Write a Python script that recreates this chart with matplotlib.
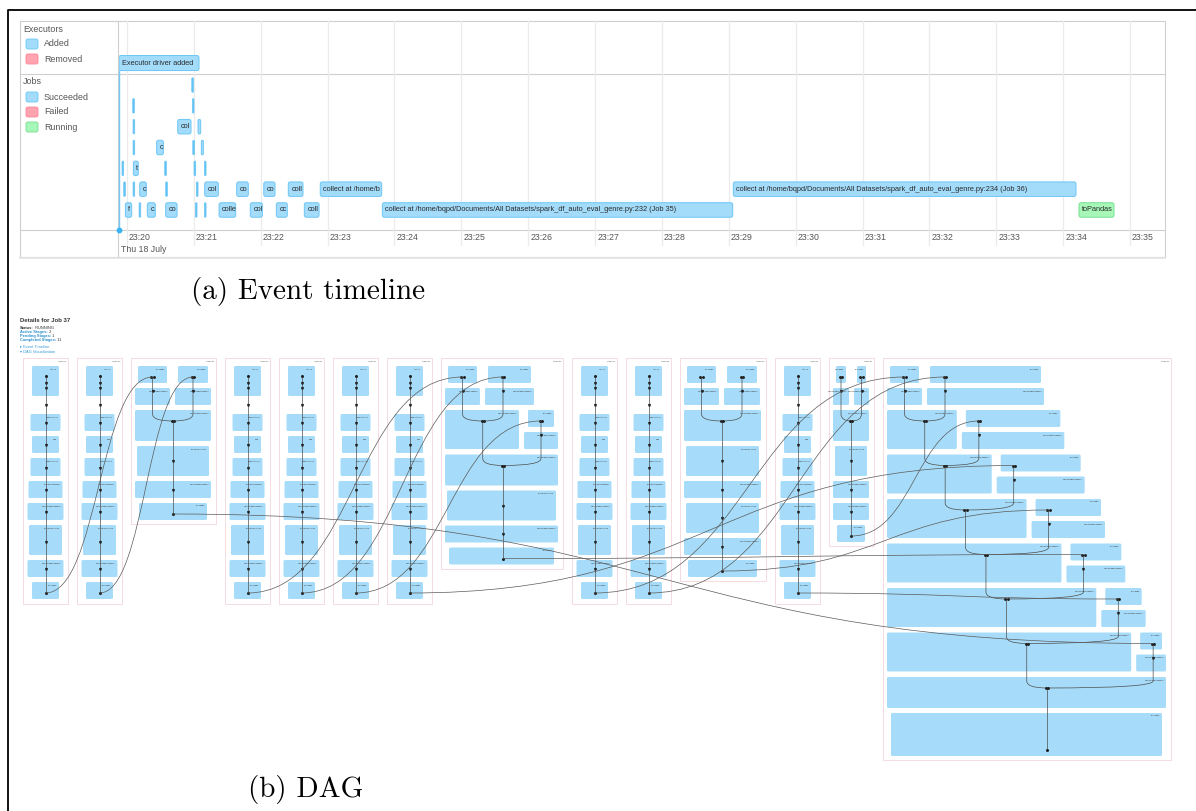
import matplotlib
matplotlib.use("Agg")
import matplotlib.pyplot as plt
import matplotlib.transforms as mtransforms
from matplotlib.patches import FancyBboxPatch, Rectangle, PathPatch
from matplotlib.path import Path

plt.rcParams['font.family'] = ['Liberation Sans', 'DejaVu Sans']

# ---------------- (a) event timeline ----------------
# times are seconds after 23:20:00
tick_labels = ['23:20', '23:21', '23:22', '23:23', '23:24', '23:25', '23:26', '23:27',
               '23:28', '23:29', '23:30', '23:31', '23:32', '23:33', '23:34', '23:35']
timeline_date = 'Thu 18 July'
executor_time = -7.2
executor_label = 'Executor driver added'

long35 = 'collect at /home/bqpd/Documents/All Datasets/spark_df_auto_eval_genre.py:232 (Job 35)'
long36 = 'collect at /home/bqpd/Documents/All Datasets/spark_df_auto_eval_genre.py:234 (Job 36)'

job_lane = [0,
            1, 1,
            2, 2, 2,
            3, 3, 3, 3,
            4, 4, 4, 4, 4,
            5, 5, 5, 5, 5, 5, 5, 5, 5, 5, 5,
            6, 6, 6, 6, 6, 6, 6, 6, 6, 6, 6, 6]
job_start = [58.1,
             5.1, 58.6,
             5.4, 45.5, 63.7,
             5.4, 26.6, 59.0, 66.7,
             -4.5, 5.7, 33.8, 60.1, 69.4,
             -3.0, 5.4, 11.4, 34.7, 62.2, 69.7, 98.4, 122.7, 144.7, 173.4, 544.0,
             -1.5, 10.8, 18.2, 34.7, 61.3, 69.4, 82.6, 110.6, 134.0, 159.1, 229.1, 854.2]
job_end = [58.1,
           5.1, 58.6,
           5.4, 57.4, 66.1,
           5.4, 32.6, 59.0, 68.5,
           -4.5, 10.1, 33.8, 60.1, 69.4,
           -3.0, 5.4, 17.3, 34.7, 62.2, 81.9, 108.8, 132.8, 157.9, 228.5, 851.5,
           4.2, 10.8, 25.4, 44.9, 61.3, 69.4, 97.5, 121.4, 143.8, 172.3, 543.5, 885.6]
job_label = ['',
             '', '',
             '', 'col', '',
             '', 'c', '', '',
             '', 't', '', '', '',
             '', '', 'c', '', '', 'col', 'co', 'co', 'coll', 'collect at /home/b', long36,
             'f', '', 'c', 'co', '', '', 'colle', 'col', 'cc', 'coll', long35, 'toPandas']
job_state = ['succeeded'] * 37 + ['running']

legend_executors = ['Added', 'Removed']
legend_jobs = ['Succeeded', 'Failed', 'Running']

fills = {'succeeded': '#A3DCFB', 'added': '#A3DCFB', 'failed': '#FFA3B0',
         'removed': '#FFA3B0', 'running': '#A6F7B8'}
edges = {'succeeded': '#6CC6F4', 'added': '#6CC6F4', 'failed': '#FF8497',
         'removed': '#FF8497', 'running': '#77DF92'}

# ---------------- (b) DAG ----------------
dag_title = 'Details for Job 37'
dag_summary_keys = ['Status:', 'Active Stages:', 'Pending Stages:', 'Completed Stages:']
dag_summary_vals = ['RUNNING', '2', '1', '11']
dag_links = ['\u25b8 Event Timeline', '\u25be DAG Visualization']

dag_stage_ids = [79, 80, 81, 82, 83, 84, 85, 86, 87, 88, 89, 90, 91, 92]
dag_stage_kind = ['chain', 'chain', 'join', 'chain', 'chain', 'chain', 'chain',
                  'join', 'chain', 'chain', 'join', 'chain', 'join', 'join']
dag_stage_width = [45, 45, 85, 45, 45, 45, 45, 122, 45, 45, 86, 45, 45, 288]
dag_side_inputs = [0, 0, 0, 0, 0, 0, 0, 1, 0, 0, 0, 0, 0, 6]
dag_col_a = [0, 0, 35, 0, 0, 0, 0, 35, 0, 0, 35, 0, 16, 35]
dag_col_b = [0, 0, 36, 0, 0, 0, 0, 49, 0, 0, 36, 0, 15, 117]
tail_short = [('BatchEvalPython', 30), ('WholeStageCodegen', 17), ('Exchange', 17)]
tail_long = [('BatchEvalPython', 30), ('WholeStageCodegen', 17),
             ('BatchEvalPython', 30), ('WholeStageCodegen', 17), ('Exchange', 17)]
tail_mid = [('BatchEvalPython', 30), ('WholeStageCodegen', 17),
            ('WholeStageCodegen', 17), ('Exchange', 17)]
tail_final = [('Exchange', 43)]
dag_tails = [None, None, tail_short, None, None, None, None, tail_short,
             None, None, tail_long, None, tail_mid, tail_final]
chain_nodes = ['textFile', 'mapPartitions', 'map', 'mapPartitions', 'ScanExistingRDD',
               'WholeStageCodegen', 'BatchEvalPython', 'WholeStageCodegen', 'Exchange']
chain_node_w = [27, 30, 27, 30, 34, 36, 33, 36, 27]
chain_node_h = [30, 17, 17, 18, 17, 17, 30, 17, 17]
# shuffle edges between stages: source stage -> (target stage, input slot)
dag_edge_src = [0, 1, 3, 4, 5, 2, 6, 7, 8, 9, 10, 11, 12]
dag_edge_dst = [2, 2, 7, 7, 7, 13, 13, 13, 13, 13, 13, 13, 13]
dag_edge_slot = [0, 1, 0, 1, 2, 7, 3, 5, 0, 1, 4, 6, 2]

W, H = 1196, 811
fig = plt.figure(figsize=(W / 100, H / 100), dpi=100)
bg = fig.add_axes([0, 0, 1, 1])
bg.set_xlim(0, W)
bg.set_ylim(H, 0)
bg.axis('off')


def fig_box(x0, y0, x1, y1):
    return [x0 / W, 1 - y1 / H, (x1 - x0) / W, (y1 - y0) / H]


# outer frame
bg.plot([8, 8, W], [H, 10, 10], color='black', lw=1.3, solid_capstyle='butt')

# timeline panel frame
LINE = '#cfcfcf'
bg.add_patch(Rectangle((20, 21), 1145, 236, fill=False, ec=LINE, lw=0.8))
bg.plot([20, 1165], [74, 74], color=LINE, lw=0.8)
bg.plot([20, 1165], [230, 230], color=LINE, lw=0.8)
bg.plot([118, 118], [21, 257], color=LINE, lw=0.8)
bg.plot([20, 1165], [258, 258], color='#e4e4e4', lw=1.2)

# legend column
TXT = '#555555'
for title, items, y in [('Executors', legend_executors, 29), ('Jobs', legend_jobs, 82)]:
    bg.text(23, y, title, fontsize=6.4, color=TXT, va='center')
    for i, it in enumerate(items):
        yy = y + 15 * (i + 1)
        key = it.lower()
        bg.add_patch(FancyBboxPatch((26, yy - 5), 12, 10, boxstyle='round,pad=0,rounding_size=2',
                                    fc=fills[key], ec=edges[key], lw=0.6))
        bg.text(44, yy, it, fontsize=6.4, color=TXT, va='center')

bg.text(121, 249, timeline_date, fontsize=6.3, color=TXT, va='center')

# timeline axes
ax = fig.add_axes(fig_box(119, 21, 1165, 230))
ax.patch.set_alpha(0)
ax.axis('off')
lane_px = 20.8
ax.set_xlim(executor_time, executor_time + 1046 * 0.8973)
ax.set_ylim(6 + 20 / lane_px, -64 / lane_px)
sec_per_px = (ax.get_xlim()[1] - ax.get_xlim()[0]) / 1046
lane_per_px = 1 / lane_px
aspect = lane_per_px / sec_per_px

tick_times = [60 * i for i in range(len(tick_labels))]
lab_trans = mtransforms.offset_copy(
    mtransforms.blended_transform_factory(ax.transData, ax.transAxes), fig=fig, x=2, y=0, units='dots')
for t, lab in zip(tick_times, tick_labels):
    ax.axvline(t, ymin=-15 / 209, ymax=1, color='#ebebeb', lw=0.9, clip_on=False, zorder=0)
    ax.text(t, -7 / 209, lab, transform=lab_trans, fontsize=6.3, color=TXT, va='center', ha='left')

bar_h = 14.5 * lane_per_px


def draw_bar(start, end, lane, label, state, h):
    thin = (end - start) < 2 * sec_per_px
    w = max(end - start, 1.7 * sec_per_px)
    r = min(2 * sec_per_px, w / 2)
    fc = '#5FC4F6' if thin else fills[state]
    p = FancyBboxPatch((start, lane - h / 2), w, h, boxstyle='round,pad=0,rounding_size=%f' % r,
                       mutation_aspect=aspect, fc=fc, ec=edges[state], lw=0.5 if thin else 0.7, zorder=3)
    ax.add_patch(p)
    if label:
        t = ax.annotate(label, (start, lane), xytext=(3, 0), textcoords='offset pixels',
                        fontsize=5.3, color='#2b2b2b', va='center', ha='left', zorder=4)
        t.set_clip_path(p)


exec_lane = -22 * lane_per_px
ax.plot([executor_time, executor_time], [exec_lane + 7.5 * lane_per_px, ax.get_ylim()[0]],
        color='#74C9F5', lw=1.0, zorder=2, clip_on=False)
ax.plot([executor_time], [ax.get_ylim()[0]], 'o', ms=3.2, color='#3DB4F2', clip_on=False, zorder=5)
draw_bar(executor_time, executor_time + 80 * sec_per_px, exec_lane, executor_label, 'added',
         15 * lane_per_px)

for ln, s, e, lab, st in zip(job_lane, job_start, job_end, job_label, job_state):
    draw_bar(s, e, ln, lab, st, bar_h)

# captions
bg.text(308, 292, '(a) Event timeline', fontsize=21, family='cmr10', ha='center', va='center')
bg.text(306, 790, '(b) DAG', fontsize=21, family='cmr10', ha='center', va='center')

# ---------------- DAG drawing ----------------
NODE = '#A6DCF9'
EDGE = '#4d4d4d'
CLUSTER = '#F4D6DB'
STAGE_TOP = 358
NODE_TOP = 366
STAGE_GAP = 9
LEVEL_STEP = 44.5


def rnode(x0, y0, x1, y1, name):
    bg.add_patch(FancyBboxPatch((x0, y0), x1 - x0, y1 - y0, boxstyle='round,pad=0,rounding_size=1.5',
                                fc=NODE, ec='none', zorder=2))
    bg.text(x1 - 2, y0 + 2.5, name, fontsize=1.5, color='#3a3a3a', ha='right', va='top', zorder=3)


def marks(xs, ys):
    bg.plot(xs, ys, ls='none', marker='v', ms=1.3, color='#222', zorder=5)


def down_curve(p0, p1):
    (x0, y0), (x1, y1) = p0, p1
    path = Path([(x0, y0), (x0, y1 - 7), (x0, y1), (x1, y1)],
                [Path.MOVETO, Path.LINETO, Path.CURVE3, Path.CURVE3])
    bg.add_patch(PathPatch(path, fc='none', ec=EDGE, lw=0.5, zorder=4))


def s_curve(p0, p1):
    (x0, y0), (x1, y1) = p0, p1
    d = 0.5 * (x1 - x0)
    path = Path([(x0, y0), (x0 + d, y0), (x1 - d, y1), (x1, y1)],
                [Path.MOVETO, Path.CURVE4, Path.CURVE4, Path.CURVE4])
    bg.add_patch(PathPatch(path, fc='none', ec='#5a5a5a', lw=0.5, zorder=6))


def draw_chain(x0, w):
    cx = x0 + w / 2
    y = NODE_TOP
    mids = [NODE_TOP + 22]
    for i, (name, nw, h) in enumerate(zip(chain_nodes, chain_node_w, chain_node_h)):
        if i > 0:
            y += 18 if i == 1 else 5
        rnode(cx - nw / 2, y, cx + nw / 2, y + h, name)
        if i == 1:
            mids.append(y - 9)
        mids.append(y + h * 0.55)
        last_top, last_h = y, h
        y += h
    out = (cx, last_top + last_h - 6)
    bg.plot([cx, cx], [NODE_TOP + 10, out[1]], color=EDGE, lw=0.5, zorder=4)
    bg.plot([cx], [NODE_TOP + 10], 'o', ms=1.2, color='#222', zorder=5)
    marks([cx] * (len(mids) - 1), mids[:-1])
    bg.plot([cx], [out[1]], 'o', ms=1.2, color='#222', zorder=5)
    return [], out, y + 5


def draw_join(x0, w, a, b, n_side, tail):
    L, R = x0 + 4, x0 + w - 5
    bR = L + a + 5 + b
    inputs = []
    for c0, c1 in [(L, L + a), (L + a + 5, bR)]:
        rnode(c0 + 3, NODE_TOP, c1 - 3, NODE_TOP + 17, 'Exchange')
        rnode(c0, NODE_TOP + 22, c1, NODE_TOP + 39, 'WholeStageCodegen')
        inputs.append((c0 + min(18, (c1 - c0) / 2), NODE_TOP + 11))
    m = n_side + 1
    mx0 = (inputs[0][0] + inputs[1][0]) / 2
    merges = []
    for k in range(1, m + 1):
        top = NODE_TOP + 44 + LEVEL_STEP * (k - 1)
        my = top + 11
        if k < m:
            bigR = L + a + (R - L - a) * k / m
            rnode(L, top, bigR, top + 39, 'WholeStageCodegen')
            sR = bR + (R - bR) * k / n_side
            rnode(bigR + 9, top, sR - 4, top + 17, 'Exchange')
            rnode(bigR + 5, top + 22, sR, top + 39, 'WholeStageCodegen')
            inputs.append((bigR + 5 + 17, my))
        else:
            rnode(L, top, R, top + 31, 'WholeStageCodegen')
            y = top + 31
        merges.append((mx0 + 20.4 * (k - 1), my))
    mids = []
    for name, h in tail:
        y += 5
        inset = {'Exchange': 4, 'BatchEvalPython': 2}.get(name, 0)
        rnode(L + inset, y, R - inset, y + h, name)
        mids.append(y + h * 0.5)
        last_top, last_h = y, h
        y += h
    # edges inside the stage
    down_curve(inputs[0], merges[0])
    down_curve(inputs[1], merges[0])
    for k in range(1, m):
        down_curve(merges[k - 1], merges[k])
        down_curve(inputs[k + 1], merges[k])
    mx, my = merges[-1]
    out = (mx, last_top + last_h - 6)
    bg.plot([mx, mx], [my, out[1]], color=EDGE, lw=0.5, zorder=4)
    marks([mx] * (len(mids) - 1), mids[:-1])
    for px, py in inputs:
        bg.plot([px - 1.2, px + 1.2], [py, py], ls='none', marker='o', ms=1.1, color='#222', zorder=5)
        marks([px], [py + 14])
    for px, py in merges:
        bg.plot([px - 1.2, px + 1.2], [py, py], ls='none', marker='o', ms=1.1, color='#222', zorder=5)
    bg.plot([mx], [out[1]], 'o', ms=1.2, color='#222', zorder=5)
    return inputs, out, y + 4


stage_inputs, stage_outputs = [], []
x = 23
for i, sid in enumerate(dag_stage_ids):
    w = dag_stage_width[i]
    if dag_stage_kind[i] == 'chain':
        ins, out, bottom = draw_chain(x, w)
    else:
        ins, out, bottom = draw_join(x, w, dag_col_a[i], dag_col_b[i], dag_side_inputs[i], dag_tails[i])
    bottom = min(bottom, 760)
    bg.add_patch(Rectangle((x, STAGE_TOP), w, bottom - STAGE_TOP, fill=False, ec=CLUSTER, lw=0.6, zorder=1))
    bg.text(x + w - 2, STAGE_TOP + 2.5, 'Stage %d' % sid, fontsize=1.5, color='#555', ha='right', va='top')
    stage_inputs.append(ins)
    stage_outputs.append(out)
    x += w + STAGE_GAP

for s, d, slot in zip(dag_edge_src, dag_edge_dst, dag_edge_slot):
    s_curve(stage_outputs[s], stage_inputs[d][slot])

# DAG page header
bg.text(20, 320, dag_title, fontsize=4.3, fontweight='bold', color='#333', va='center')
for i, (k, v) in enumerate(zip(dag_summary_keys, dag_summary_vals)):
    yy = 328 + 4 * i
    col = '#333' if i == 0 else '#2a8fd0'
    t = bg.text(20, yy, k, fontsize=2.9, fontweight='bold', color=col, va='center')
    bg.annotate(' ' + v, (1, 0.5), xycoords=t, fontsize=2.9, color='#333', va='center')
for i, lk in enumerate(dag_links):
    bg.text(20, 347 + 5 * i, lk, fontsize=2.9, color='#3a9ad9', va='center')

fig.savefig('out.png', dpi=100)
